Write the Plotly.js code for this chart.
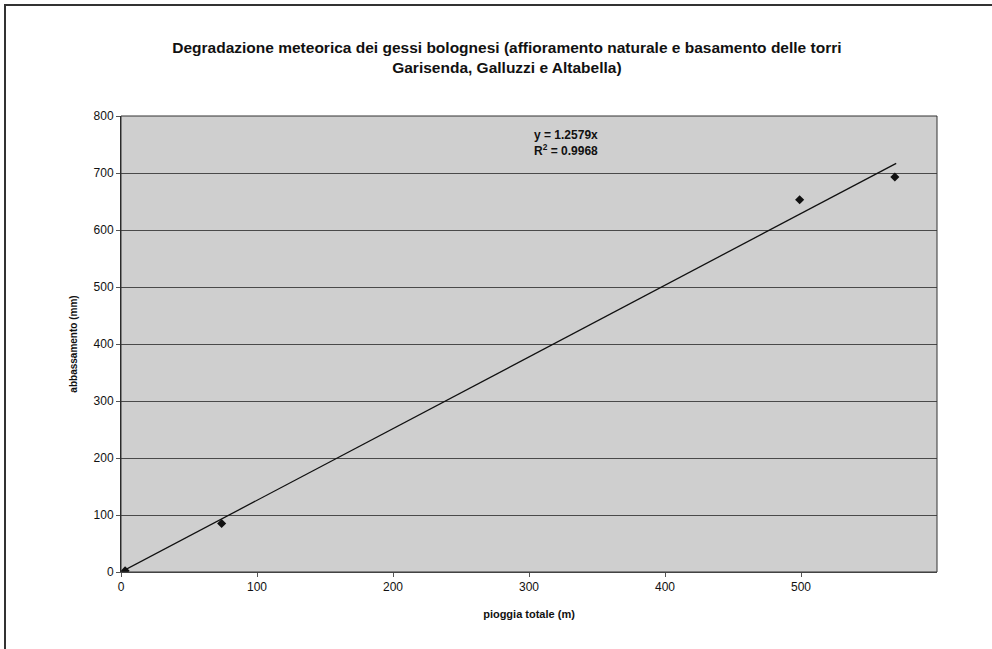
<!DOCTYPE html>
<html>
<head>
<meta charset="utf-8">
<script src="https://cdn.plot.ly/plotly-3.0.1.min.js"></script>
<style>
html,body{margin:0;padding:0;background:#fff;}
#wrap{position:relative;width:992px;height:649px;}
#chart{position:absolute;left:0;top:0;width:992px;height:649px;}
#frame{position:absolute;left:4px;top:4px;width:1000px;height:700px;border-left:2px solid #333;border-top:2px solid #333;pointer-events:none;}
</style>
</head>
<body>
<div id="wrap"><div id="chart"></div><div id="frame"></div></div>
<script>
// Data
const rainfall = [3, 74, 499, 569];          // pioggia totale (m)
const lowering = [2, 85, 653, 693];          // abbassamento (mm)
const slope = 1.2579;
const r2 = 0.9968;
const trendX = [0, 570];
const xTicks = [0, 100, 200, 300, 400, 500];
const yTicks = [0, 100, 200, 300, 400, 500, 600, 700, 800];

const trendY = trendX.map(v => slope * v);
const font = "'Liberation Sans', Arial, sans-serif";

const traces = [
  {x: trendX, y: trendY, mode: 'lines', type: 'scatter',
   line: {color: '#111', width: 1.3}, hoverinfo: 'skip', showlegend: false},
  {x: rainfall, y: lowering, mode: 'markers', type: 'scatter',
   marker: {symbol: 'diamond', size: 7, color: '#111'}, showlegend: false}
];

const layout = {
  width: 992, height: 649,
  margin: {l: 121, r: 55, t: 116, b: 77},
  paper_bgcolor: '#ffffff',
  plot_bgcolor: '#cfcfcf',
  font: {family: font, color: '#111', size: 11},
  title: {
    text: '<b>Degradazione meteorica dei gessi bolognesi (affioramento naturale e basamento delle torri<br>Garisenda, Galluzzi e Altabella)</b>',
    x: 0.511, xanchor: 'center', y: 0.918, yanchor: 'middle',
    font: {family: font, size: 15.5, color: '#111'}
  },
  xaxis: {
    range: [0, 600], tickvals: xTicks, ticktext: xTicks.map(String),
    showgrid: false, zeroline: false, showline: true, linecolor: '#555', linewidth: 1,
    ticks: 'outside', ticklen: 4, tickcolor: '#555',
    tickfont: {family: font, size: 12, color: '#111'},
    title: {text: '<b>pioggia totale (m)</b>', font: {family: font, size: 11, color: '#111'}, standoff: 16}
  },
  yaxis: {
    range: [0, 800], tickvals: yTicks, ticktext: yTicks.map(String),
    showgrid: true, gridcolor: '#4a4a4a', gridwidth: 1,
    zeroline: false, showline: true, linecolor: '#222', linewidth: 1,
    ticks: 'outside', ticklen: 4, tickcolor: '#555',
    tickfont: {family: font, size: 12, color: '#111'},
    title: {text: '<b>abbassamento (mm)</b>', font: {family: font, size: 10, color: '#111'}, standoff: 14}
  },
  shapes: [
    {type: 'rect', xref: 'paper', yref: 'paper', x0: 0, x1: 1, y0: 0, y1: 1,
     line: {color: '#333', width: 1}, fillcolor: 'rgba(0,0,0,0)'}
  ],
  annotations: [
    {xref: 'x', yref: 'y', x: 302, y: 752, xanchor: 'left', yanchor: 'middle', showarrow: false,
     align: 'left',
     text: '<b>y = ' + slope + 'x<br>R<sup>2</sup> = ' + r2 + '</b>',
     font: {family: font, size: 12, color: '#111'}}
  ]
};

Plotly.newPlot('chart', traces, layout, {displayModeBar: false, staticPlot: true});
</script>
</body>
</html>
